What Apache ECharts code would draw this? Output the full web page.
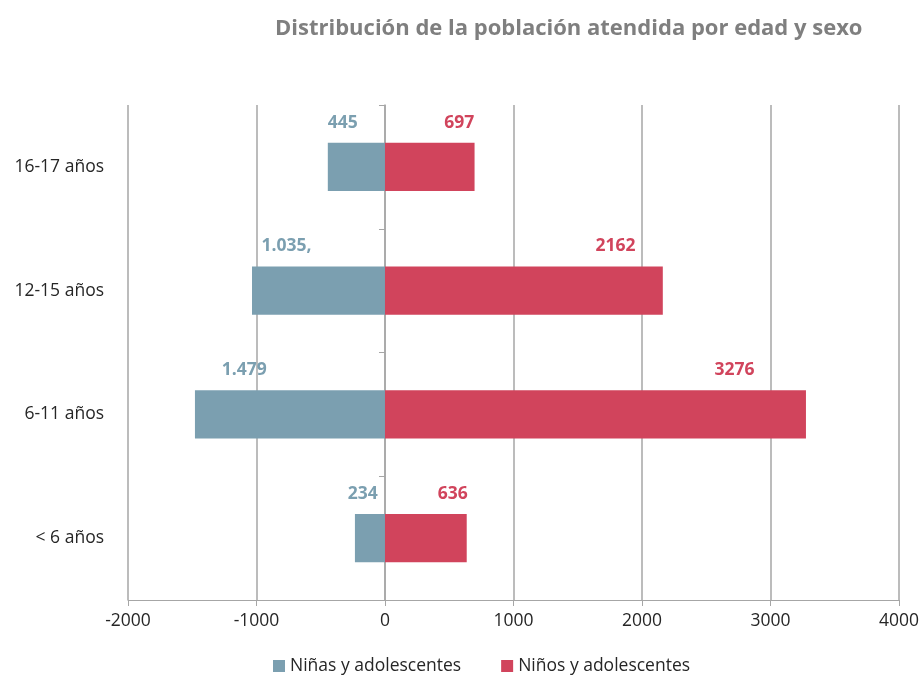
<!DOCTYPE html>
<html>
<head>
<meta charset="utf-8">
<script src="https://cdn.jsdelivr.net/npm/echarts@6/dist/echarts.min.js"></script>
<style>html,body{margin:0;padding:0;background:#fff}#c{width:922px;height:675px}</style>
</head>
<body>
<div id="c"></div>
<script>
var categories = ["< 6 años", "6-11 años", "12-15 años", "16-17 años"];
var ninas = [234, 1479, 1035, 445];
var ninasLabels = ["234", "1.479", "1.035,", "445"];
var ninos = [636, 3276, 2162, 697];
var ninosLabels = ["636", "3276", "2162", "697"];
var xTicks = { min: -2000, max: 4000, interval: 1000 };

var FONT = "Open Sans";
var chart = echarts.init(document.getElementById('c'), null, { renderer: 'canvas' });
chart.setOption({
  animation: false,
  title: {
    text: 'Distribución de la población atendida por edad y sexo',
    left: 270, top: 13,
    textStyle: { color: '#7F7F7F', fontFamily: FONT, fontWeight: 'bold', fontSize: 22 }
  },
  legend: {
    top: 652, left: 268, itemWidth: 12, itemHeight: 12, itemGap: 40, icon: 'rect',
    textStyle: { color: '#262626', fontFamily: FONT, fontSize: 17.5 },
    data: ['Niñas y adolescentes', 'Niños y adolescentes']
  },
  grid: { left: 128, right: 22, top: 105, bottom: 75, containLabel: false },
  xAxis: {
    type: 'value', min: xTicks.min, max: xTicks.max, interval: xTicks.interval,
    axisLine: { show: true, lineStyle: { color: '#A6A6A6' } },
    axisTick: { show: true, length: 6, lineStyle: { color: '#A6A6A6' } },
    axisLabel: { color: '#262626', fontFamily: FONT, fontSize: 17.5, margin: 12,
      formatter: function (v) { return String(v); } },
    splitLine: { show: true, lineStyle: { color: '#A6A6A6', width: 1.5 } }
  },
  yAxis: [{
    type: 'category', data: categories,
    axisLine: { show: false, onZero: false },
    axisTick: { show: false },
    axisLabel: { color: '#262626', fontFamily: FONT, fontSize: 17.5, margin: 24 }
  }, {
    type: 'category', data: categories, position: 'left',
    axisLine: { show: true, onZero: true, lineStyle: { color: '#A6A6A6', width: 1.5 } },
    axisTick: { show: true, length: 6, lineStyle: { color: '#A6A6A6' } },
    axisLabel: { show: false }
  }],
  series: [{
    name: 'Niñas y adolescentes', type: 'bar', stack: 't', barWidth: '39%',
    data: ninas.map(function (v) { return -v; }),
    itemStyle: { color: '#7B9FB0' },
    label: {
      show: true, position: ['26%', -20], align: 'center', verticalAlign: 'middle',
      color: '#7B9FB0', fontFamily: FONT, fontWeight: 'bold', fontSize: 17.5,
      formatter: function (p) { return ninasLabels[p.dataIndex]; }
    }
  }, {
    name: 'Niños y adolescentes', type: 'bar', stack: 't', barWidth: '39%',
    data: ninos,
    itemStyle: { color: '#D1445C' },
    label: {
      show: true, position: ['83%', -20], align: 'center', verticalAlign: 'middle',
      color: '#D1445C', fontFamily: FONT, fontWeight: 'bold', fontSize: 17.5,
      formatter: function (p) { return ninosLabels[p.dataIndex]; }
    }
  }]
});
</script>
</body>
</html>
